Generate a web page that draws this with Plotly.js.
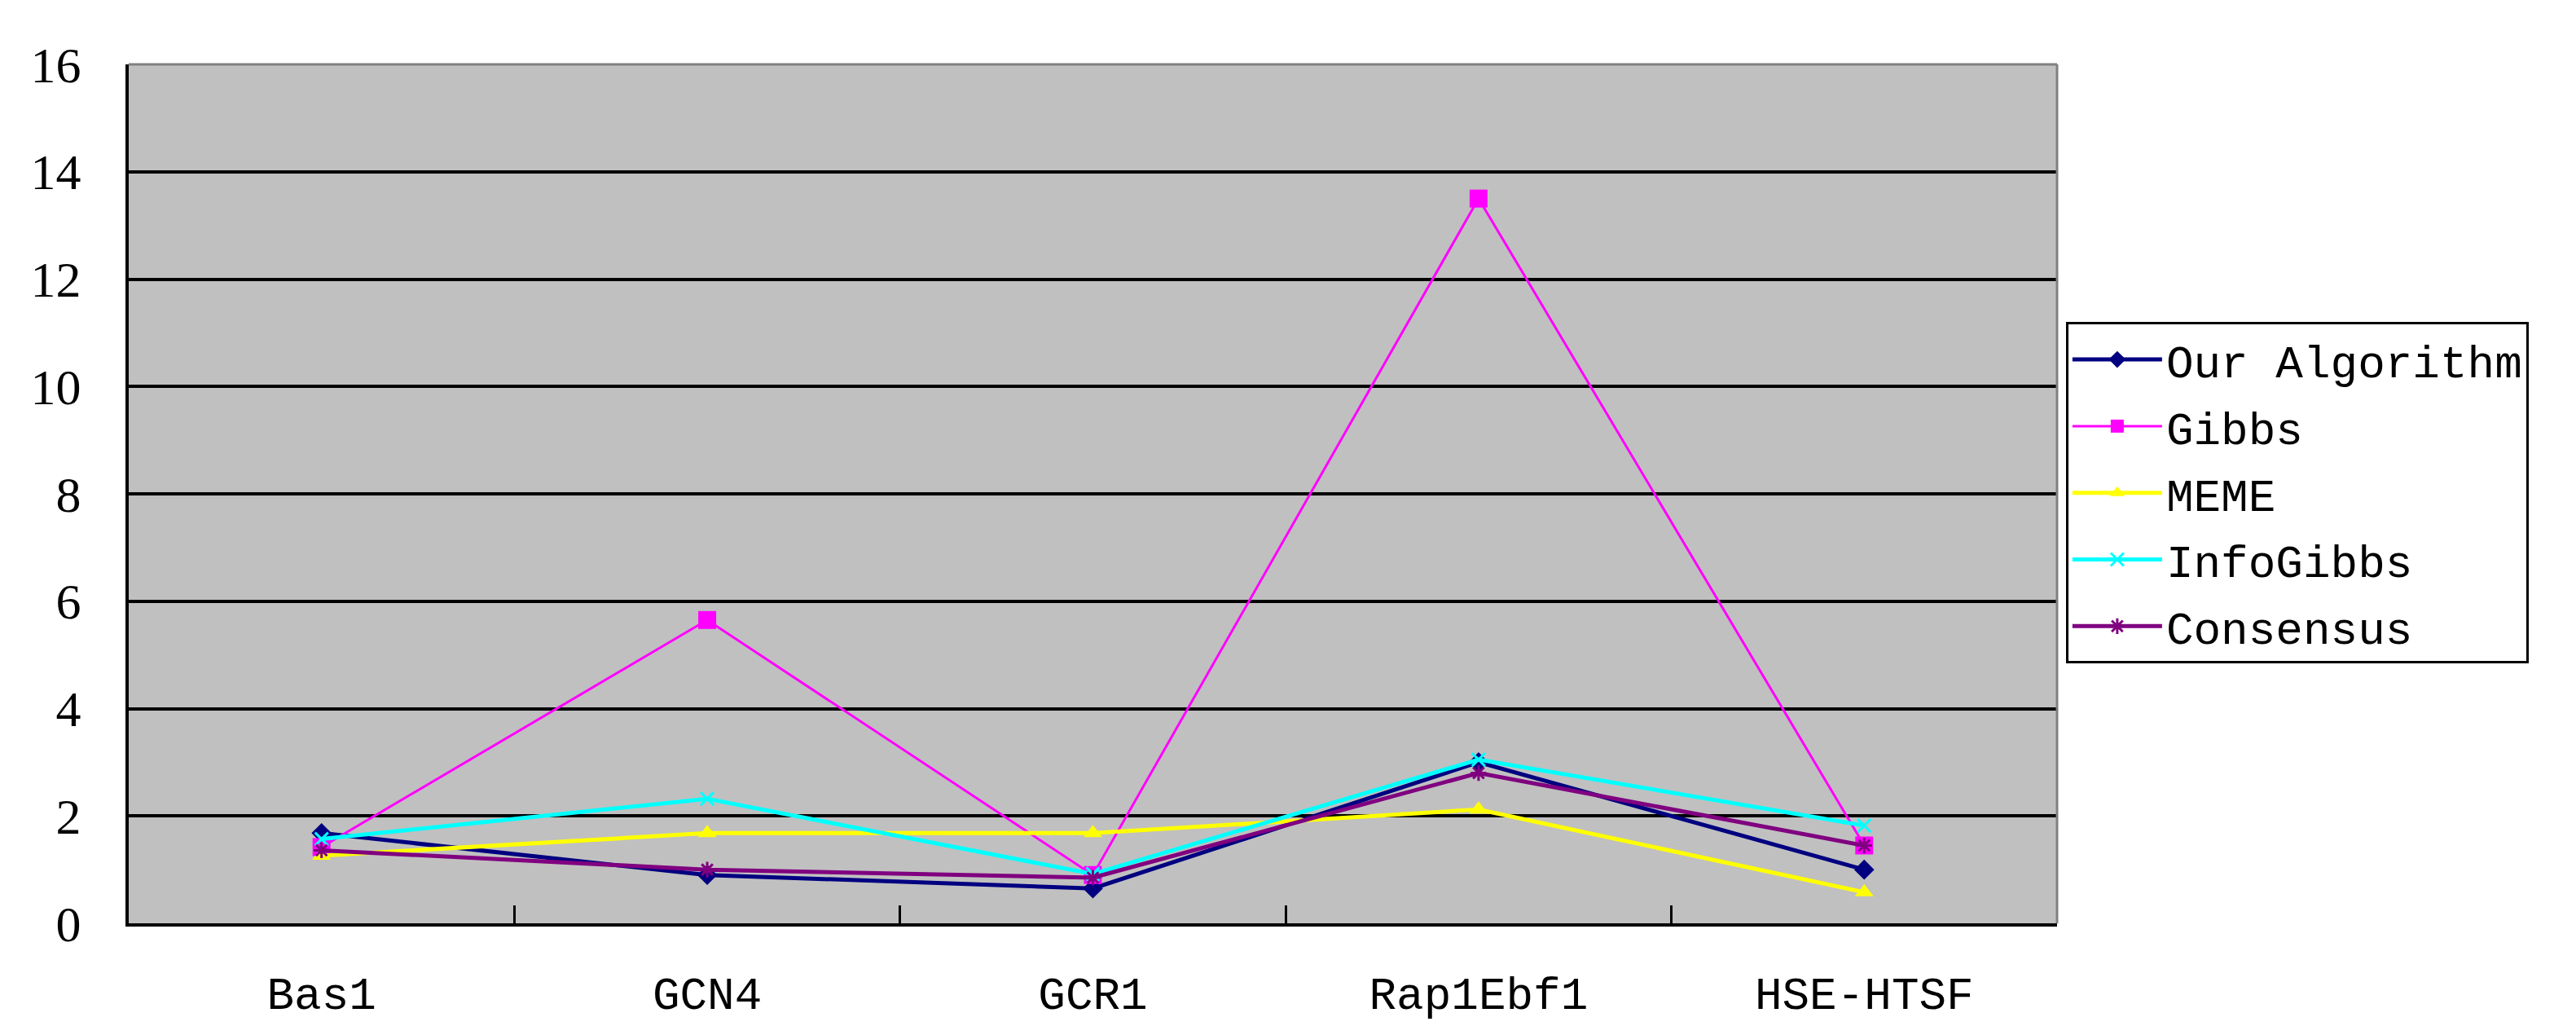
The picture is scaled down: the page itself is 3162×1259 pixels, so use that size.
<!DOCTYPE html>
<html>
<head>
<meta charset="utf-8">
<script src="https://cdn.plot.ly/plotly-3.0.1.min.js"></script>
<style>
  html, body { margin: 0; padding: 0; background: #fff; }
  #chart { width: 3162px; height: 1259px; }
</style>
</head>
<body>
<div id="chart"></div>
<script>
// values
var categories = ['Bas1', 'GCN4', 'GCR1', 'Rap1Ebf1', 'HSE-HTSF'];
var ourAlgorithm = [1.68, 0.9, 0.65, 3.0, 1.0];
var gibbs = [1.42, 5.65, 0.9, 13.5, 1.45];
var meme = [1.26, 1.68, 1.68, 2.12, 0.58];
var infoGibbs = [1.57, 2.32, 0.92, 3.05, 1.82];
var consensus = [1.36, 1.0, 0.85, 2.8, 1.45];
var yTicks = [0, 2, 4, 6, 8, 10, 12, 14, 16];

var textFont = 'Liberation Mono, DejaVu Sans Mono, monospace';

function series(name, values, color, width, symbol, size, open) {
  var marker = {symbol: symbol, size: size, color: color};
  if (open) marker.line = {color: color, width: 3};
  return {
    x: categories,
    y: values,
    name: name,
    legendgroup: name,
    type: 'scatter',
    mode: 'lines+markers',
    line: {color: color, width: width},
    marker: marker,
    cliponaxis: false
  };
}

var data = [
  series('Our Algorithm', ourAlgorithm, '#000080', 5, 'diamond', 19, false),
  series('Gibbs', gibbs, '#FF00FF', 3, 'square', 22, false),
  series('MEME', meme, '#FFFF00', 5, 'triangle-up', 20, false),
  series('InfoGibbs', infoGibbs, '#00FFFF', 5, 'x-thin-open', 16, true),
  series('Consensus', consensus, '#800080', 5, 'asterisk-open', 16, true)
];

var layout = {
  width: 3162,
  height: 1259,
  margin: {l: 158, r: 637, t: 79, b: 126},
  paper_bgcolor: '#FFFFFF',
  plot_bgcolor: '#C0C0C0',
  showlegend: true,
  legend: {
    x: 1.0046,
    y: 0.70,
    xanchor: 'left',
    yanchor: 'top',
    bgcolor: '#FFFFFF',
    bordercolor: '#000000',
    borderwidth: 3,
    itemwidth: 110,
    tracegroupgap: 6,
    font: {family: textFont, size: 56, color: '#000'}
  },
  xaxis: {
    type: 'category',
    range: [-0.5, 4.5],
    showgrid: false,
    showline: true,
    linecolor: '#000',
    linewidth: 4,
    ticks: 'inside',
    tickson: 'boundaries',
    ticklen: 22,
    tickwidth: 3,
    tickcolor: '#000',
    ticklabelstandoff: 34,
    tickfont: {family: textFont, size: 56, color: '#000'},
    zeroline: false,
    fixedrange: true
  },
  yaxis: {
    range: [0, 16],
    tickvals: yTicks,
    showgrid: true,
    gridcolor: '#000',
    gridwidth: 4,
    showline: true,
    linecolor: '#000',
    linewidth: 4,
    ticks: 'inside',
    ticklen: 22,
    tickwidth: 3,
    tickcolor: '#000',
    ticklabelstandoff: 42,
    tickfont: {family: 'Liberation Serif, DejaVu Serif, serif', size: 62, color: '#000'},
    zeroline: false,
    fixedrange: true
  },
  shapes: [
    {type: 'line', xref: 'paper', yref: 'paper', x0: 0, x1: 1, y0: 1, y1: 1,
     line: {color: '#808080', width: 3}},
    {type: 'line', xref: 'paper', yref: 'paper', x0: 1, x1: 1, y0: 0, y1: 1,
     line: {color: '#808080', width: 3}}
  ]
};

Plotly.newPlot('chart', data, layout, {displayModeBar: false, staticPlot: true});
</script>
</body>
</html>
